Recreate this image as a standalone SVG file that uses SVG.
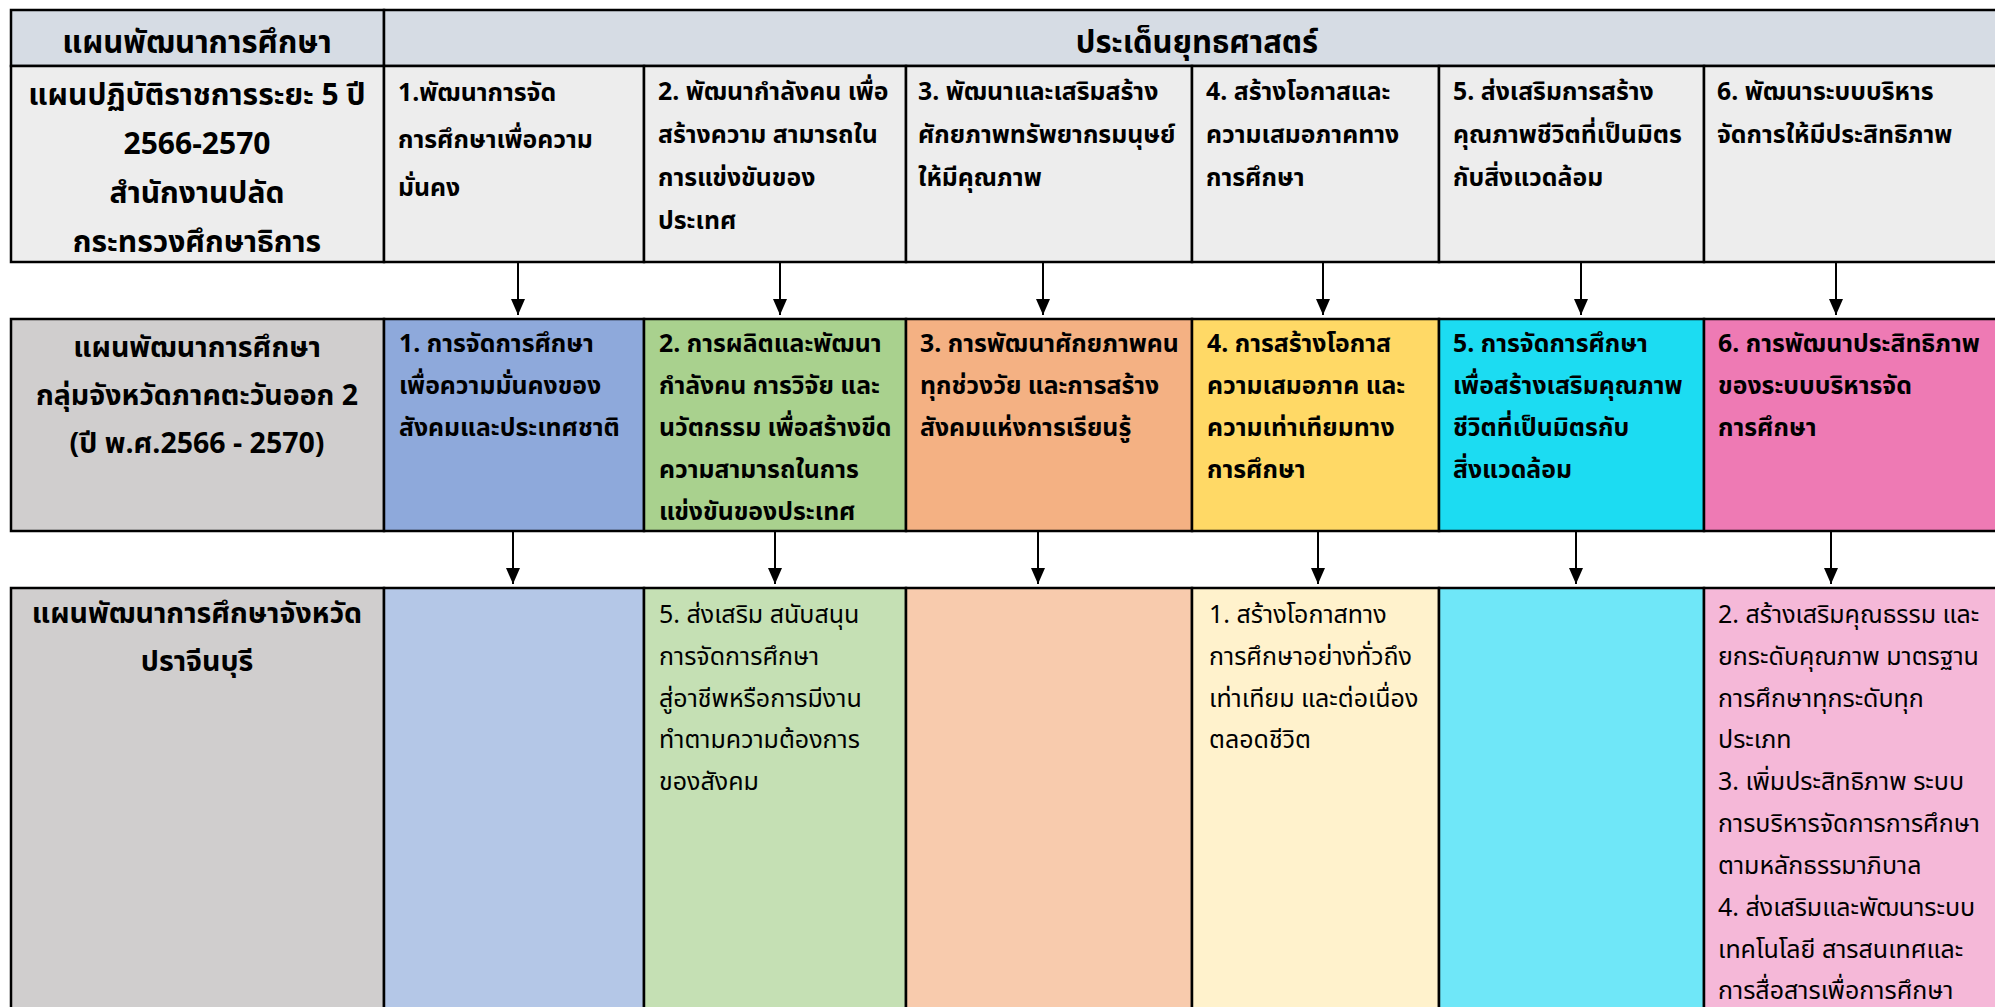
<svg xmlns="http://www.w3.org/2000/svg" width="1995" height="1007" viewBox="0 0 1995 1007">
<style>
text{font-family:"Noto Sans Thai","Leelawadee UI",Tahoma,"Noto Sans","DejaVu Sans",sans-serif;fill:#000}
.cell{stroke:#000;stroke-width:2.5}
.h{font-size:31px;font-weight:bold}
.t1{font-size:30px;font-weight:bold}
.t0{font-size:28.5px;font-weight:bold}
.b{font-size:24.8px;font-weight:bold}
.r{font-size:25px}
.c{text-anchor:middle}
.arrow{stroke:#000;stroke-width:2;fill:none;marker-end:url(#ah)}
</style>
<defs>
<marker id="ah" viewBox="0 0 16 14" refX="16" refY="7" markerWidth="16" markerHeight="14" markerUnits="userSpaceOnUse" orient="auto">
<path d="M0,0 L16,7 L0,14 Z" fill="#000"/>
</marker>
</defs>

<g id="header-plan">
<rect class="cell" x="11" y="10" width="373" height="56" fill="#D6DCE4"/>
<text class="h c" x="197" y="53">แผนพัฒนาการศึกษา</text>
</g>
<g id="header-issues">
<rect class="cell" x="384" y="10" width="1630" height="56" fill="#D6DCE4"/>
<text class="h c" x="1197" y="53">ประเด็นยุทธศาสตร์</text>
</g>

<g id="r1c0">
<rect class="cell" x="11" y="66" width="373" height="196" fill="#EDEDED"/>
<text class="t1 c"><tspan x="197" y="105">แผนปฏิบัติราชการระยะ 5 ปี</tspan><tspan x="197" y="154">2566-2570</tspan><tspan x="197" y="203">สำนักงานปลัด</tspan><tspan x="197" y="252">กระทรวงศึกษาธิการ</tspan></text>
</g>
<g id="r1c1">
<rect class="cell" x="384" y="66" width="260" height="196" fill="#EDEDED"/>
<text class="b"><tspan x="398" y="101">1.พัฒนาการจัด</tspan><tspan x="398" y="148">การศึกษาเพื่อความ</tspan><tspan x="398" y="196">มั่นคง</tspan></text>
</g>
<g id="r1c2">
<rect class="cell" x="644" y="66" width="262" height="196" fill="#EDEDED"/>
<text class="b"><tspan x="658" y="100">2. พัฒนากำลังคน เพื่อ</tspan><tspan x="658" y="143">สร้างความ สามารถใน</tspan><tspan x="658" y="186">การแข่งขันของ</tspan><tspan x="658" y="229">ประเทศ</tspan></text>
</g>
<g id="r1c3">
<rect class="cell" x="906" y="66" width="286" height="196" fill="#EDEDED"/>
<text class="b"><tspan x="918" y="100">3. พัฒนาและเสริมสร้าง</tspan><tspan x="918" y="143">ศักยภาพทรัพยากรมนุษย์</tspan><tspan x="918" y="186">ให้มีคุณภาพ</tspan></text>
</g>
<g id="r1c4">
<rect class="cell" x="1192" y="66" width="247" height="196" fill="#EDEDED"/>
<text class="b"><tspan x="1206" y="100">4. สร้างโอกาสและ</tspan><tspan x="1206" y="143">ความเสมอภาคทาง</tspan><tspan x="1206" y="186">การศึกษา</tspan></text>
</g>
<g id="r1c5">
<rect class="cell" x="1439" y="66" width="265" height="196" fill="#EDEDED"/>
<text class="b"><tspan x="1453" y="100">5. ส่งเสริมการสร้าง</tspan><tspan x="1453" y="143">คุณภาพชีวิตที่เป็นมิตร</tspan><tspan x="1453" y="186">กับสิ่งแวดล้อม</tspan></text>
</g>
<g id="r1c6">
<rect class="cell" x="1704" y="66" width="310" height="196" fill="#EDEDED"/>
<text class="b"><tspan x="1717" y="100">6. พัฒนาระบบบริหาร</tspan><tspan x="1717" y="143">จัดการให้มีประสิทธิภาพ</tspan></text>
</g>

<g id="r2c0">
<rect class="cell" x="11" y="319" width="373" height="212" fill="#D0CECE"/>
<text class="t0 c"><tspan x="197" y="357">แผนพัฒนาการศึกษา</tspan><tspan x="197" y="405">กลุ่มจังหวัดภาคตะวันออก 2</tspan><tspan x="197" y="453">(ปี พ.ศ.2566 - 2570)</tspan></text>
</g>
<g id="r2c1">
<rect class="cell" x="384" y="319" width="260" height="212" fill="#8EA9DB"/>
<text class="b"><tspan x="399" y="352">1. การจัดการศึกษา</tspan><tspan x="399" y="394">เพื่อความมั่นคงของ</tspan><tspan x="399" y="436">สังคมและประเทศชาติ</tspan></text>
</g>
<g id="r2c2">
<rect class="cell" x="644" y="319" width="262" height="212" fill="#A9D18E"/>
<text class="b"><tspan x="659" y="352">2. การผลิตและพัฒนา</tspan><tspan x="659" y="394">กำลังคน การวิจัย และ</tspan><tspan x="659" y="436">นวัตกรรม เพื่อสร้างขีด</tspan><tspan x="659" y="478">ความสามารถในการ</tspan><tspan x="659" y="520">แข่งขันของประเทศ</tspan></text>
</g>
<g id="r2c3">
<rect class="cell" x="906" y="319" width="286" height="212" fill="#F4B183"/>
<text class="b"><tspan x="920" y="352">3. การพัฒนาศักยภาพคน</tspan><tspan x="920" y="394">ทุกช่วงวัย และการสร้าง</tspan><tspan x="920" y="436">สังคมแห่งการเรียนรู้</tspan></text>
</g>
<g id="r2c4">
<rect class="cell" x="1192" y="319" width="247" height="212" fill="#FFD966"/>
<text class="b"><tspan x="1207" y="352">4. การสร้างโอกาส</tspan><tspan x="1207" y="394">ความเสมอภาค และ</tspan><tspan x="1207" y="436">ความเท่าเทียมทาง</tspan><tspan x="1207" y="478">การศึกษา</tspan></text>
</g>
<g id="r2c5">
<rect class="cell" x="1439" y="319" width="265" height="212" fill="#1CDCF2"/>
<text class="b"><tspan x="1453" y="352">5. การจัดการศึกษา</tspan><tspan x="1453" y="394">เพื่อสร้างเสริมคุณภาพ</tspan><tspan x="1453" y="436">ชีวิตที่เป็นมิตรกับ</tspan><tspan x="1453" y="478">สิ่งแวดล้อม</tspan></text>
</g>
<g id="r2c6">
<rect class="cell" x="1704" y="319" width="310" height="212" fill="#EE7AB4"/>
<text class="b"><tspan x="1718" y="352">6. การพัฒนาประสิทธิภาพ</tspan><tspan x="1718" y="394">ของระบบบริหารจัด</tspan><tspan x="1718" y="436">การศึกษา</tspan></text>
</g>

<g id="r3c0">
<rect class="cell" x="11" y="588" width="373" height="440" fill="#D0CECE"/>
<text class="t0 c"><tspan x="197" y="623">แผนพัฒนาการศึกษาจังหวัด</tspan><tspan x="197" y="671">ปราจีนบุรี</tspan></text>
</g>
<g id="r3c1">
<rect class="cell" x="384" y="588" width="260" height="440" fill="#B4C7E7"/>
</g>
<g id="r3c2">
<rect class="cell" x="644" y="588" width="262" height="440" fill="#C5E0B4"/>
<text class="r"><tspan x="659" y="623">5. ส่งเสริม สนับสนุน</tspan><tspan x="659" y="665">การจัดการศึกษา</tspan><tspan x="659" y="707">สู่อาชีพหรือการมีงาน</tspan><tspan x="659" y="748">ทำตามความต้องการ</tspan><tspan x="659" y="790">ของสังคม</tspan></text>
</g>
<g id="r3c3">
<rect class="cell" x="906" y="588" width="286" height="440" fill="#F8CBAD"/>
</g>
<g id="r3c4">
<rect class="cell" x="1192" y="588" width="247" height="440" fill="#FFF2CC"/>
<text class="r"><tspan x="1209" y="623">1. สร้างโอกาสทาง</tspan><tspan x="1209" y="665">การศึกษาอย่างทั่วถึง</tspan><tspan x="1209" y="707">เท่าเทียม และต่อเนื่อง</tspan><tspan x="1209" y="748">ตลอดชีวิต</tspan></text>
</g>
<g id="r3c5">
<rect class="cell" x="1439" y="588" width="265" height="440" fill="#6FE7F8"/>
</g>
<g id="r3c6">
<rect class="cell" x="1704" y="588" width="310" height="440" fill="#F5B8D8"/>
<text class="r"><tspan x="1718" y="623">2. สร้างเสริมคุณธรรม และ</tspan><tspan x="1718" y="665">ยกระดับคุณภาพ มาตรฐาน</tspan><tspan x="1718" y="707">การศึกษาทุกระดับทุก</tspan><tspan x="1718" y="748">ประเภท</tspan><tspan x="1718" y="790">3. เพิ่มประสิทธิภาพ ระบบ</tspan><tspan x="1718" y="832">การบริหารจัดการการศึกษา</tspan><tspan x="1718" y="874">ตามหลักธรรมาภิบาล</tspan><tspan x="1718" y="916">4. ส่งเสริมและพัฒนาระบบ</tspan><tspan x="1718" y="958">เทคโนโลยี สารสนเทศและ</tspan><tspan x="1718" y="999">การสื่อสารเพื่อการศึกษา</tspan></text>
</g>

<g id="connectors">
<line class="arrow" x1="518" y1="263" x2="518" y2="315"/>
<line class="arrow" x1="780" y1="263" x2="780" y2="315"/>
<line class="arrow" x1="1043" y1="263" x2="1043" y2="315"/>
<line class="arrow" x1="1323" y1="263" x2="1323" y2="315"/>
<line class="arrow" x1="1581" y1="263" x2="1581" y2="315"/>
<line class="arrow" x1="1836" y1="263" x2="1836" y2="315"/>
<line class="arrow" x1="513" y1="532" x2="513" y2="584"/>
<line class="arrow" x1="775" y1="532" x2="775" y2="584"/>
<line class="arrow" x1="1038" y1="532" x2="1038" y2="584"/>
<line class="arrow" x1="1318" y1="532" x2="1318" y2="584"/>
<line class="arrow" x1="1576" y1="532" x2="1576" y2="584"/>
<line class="arrow" x1="1831" y1="532" x2="1831" y2="584"/>
</g>
</svg>
